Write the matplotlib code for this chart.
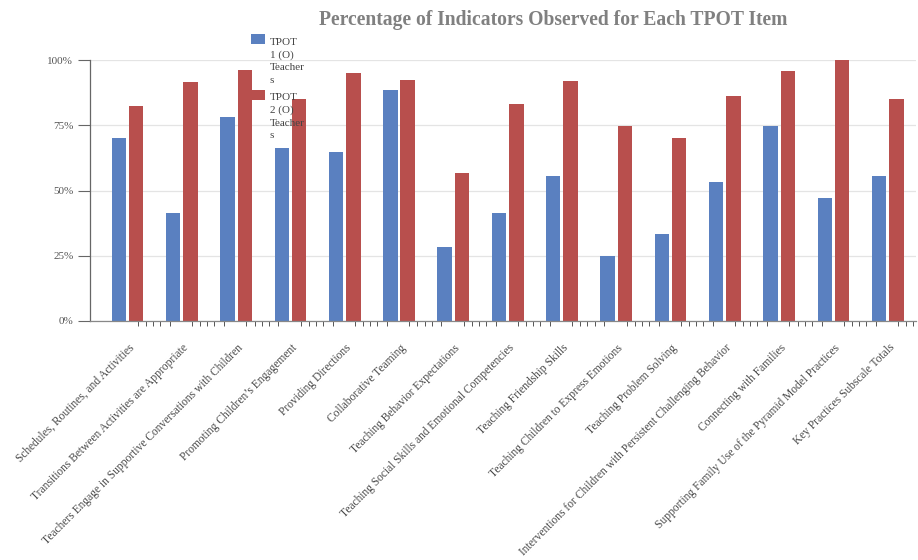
import matplotlib
matplotlib.use('Agg')
import numpy as np
import matplotlib.pyplot as plt
from matplotlib.patches import Rectangle
from matplotlib.legend_handler import HandlerPatch
from matplotlib.ticker import PercentFormatter

items = [
    "Schedules, Routines, and Activities",
    "Transitions Between Activities are Appropriate",
    "Teachers Engage in Supportive Conversations with Children",
    "Promoting Children\u2019s Engagement",
    "Providing Directions",
    "Collaborative Teaming",
    "Teaching Behavior Expectations",
    "Teaching Social Skills and Emotional Competencies",
    "Teaching Friendship Skills",
    "Teaching Children to Express Emotions",
    "Teaching Problem Solving",
    "Interventions for Children with Persistent Challenging Behavior",
    "Connecting with Families",
    "Supporting Family Use of the Pyramid Model Practices",
    "Key Practices Subscale Totals",
]
tpot1 = [70.3, 41.3, 78.3, 66.4, 64.9, 88.5, 28.2, 41.4, 55.6, 24.8, 33.2, 53.3, 74.9, 47.2, 55.6]
tpot2 = [82.4, 91.7, 96.2, 84.9, 95.1, 92.3, 56.8, 83.1, 91.8, 74.9, 70.2, 86.3, 95.9, 100.0, 85.2]
series_labels = ["TPOT\n1 (O)\nTeacher\ns", "TPOT\n2 (O)\nTeacher\ns"]

BLUE = '#5a80c0'
RED = '#b84f4d'
SERIF = ['Liberation Serif', 'DejaVu Serif']


def top_square(legend, orig_handle, xdescent, ydescent, width, height, fontsize):
    # square sits next to the first line of the wrapped label
    return Rectangle((-xdescent, -ydescent + 1.95 * fontsize), width, height)


plt.rcParams['font.family'] = SERIF
fig = plt.figure(figsize=(9.18, 5.6), dpi=100)
ax = fig.add_axes([90 / 918, 1 - 321 / 560, 826 / 918, 261 / 560])

x = np.arange(len(items))
w = 0.265
b1 = ax.bar(x - 0.16, np.array(tpot1) / 100, w, color=BLUE, zorder=2)
b2 = ax.bar(x + 0.16, np.array(tpot2) / 100, w, color=RED, zorder=2)

ax.set_xlim(-0.69, len(items) - 0.48)
ax.set_ylim(0, 1)
ax.set_yticks([0, 0.25, 0.5, 0.75, 1.0])
ax.yaxis.set_major_formatter(PercentFormatter(1.0, decimals=0))
ax.grid(axis='y', color='#e4e4e4', linewidth=0.9, zorder=0)
ax.tick_params(axis='y', length=8.5, width=0.8, color='#666666', labelsize=8,
               labelcolor='#555555', pad=3.5)

ax.set_xticks(x + 0.01)
ax.set_xticklabels(items, rotation=45, ha='right', va='top',
                   rotation_mode='anchor', fontsize=8.3, color='#4a4a4a')
ax.tick_params(axis='x', length=0, pad=15)
offs = [0.19, 0.34, 0.47, 0.60, 0.78]
minor = [i + o for i in x for o in offs if i + o < len(items) - 0.48]
ax.set_xticks(minor, minor=True)
ax.tick_params(axis='x', which='minor', length=3.5, width=0.7, color='#555555')

for s in ['top', 'right']:
    ax.spines[s].set_visible(False)
ax.spines['left'].set_color('#666666')
ax.spines['bottom'].set_color('#888888')
ax.spines['left'].set_linewidth(0.9)
ax.spines['bottom'].set_linewidth(0.9)

fig.text(553 / 918, 1 - 20 / 560, "Percentage of Indicators Observed for Each TPOT Item",
         ha='center', va='center', fontsize=14.1, fontweight='bold', color='#808080')

h1, h2 = b1.patches[0], b2.patches[0]
leg = ax.legend([h1, h2], series_labels, loc='upper left',
                bbox_to_anchor=(245 / 918, 1 - 32 / 560), bbox_transform=fig.transFigure,
                frameon=False, fontsize=8, handlelength=1.3, handleheight=1.05,
                handletextpad=0.45, labelspacing=0.75, borderpad=0,
                handler_map={h1: HandlerPatch(patch_func=top_square),
                             h2: HandlerPatch(patch_func=top_square)})
for t in leg.get_texts():
    t.set_color('#444444')
    t.set_linespacing(1.5)
leg.set_zorder(5)

fig.savefig('out.png', dpi=100)
